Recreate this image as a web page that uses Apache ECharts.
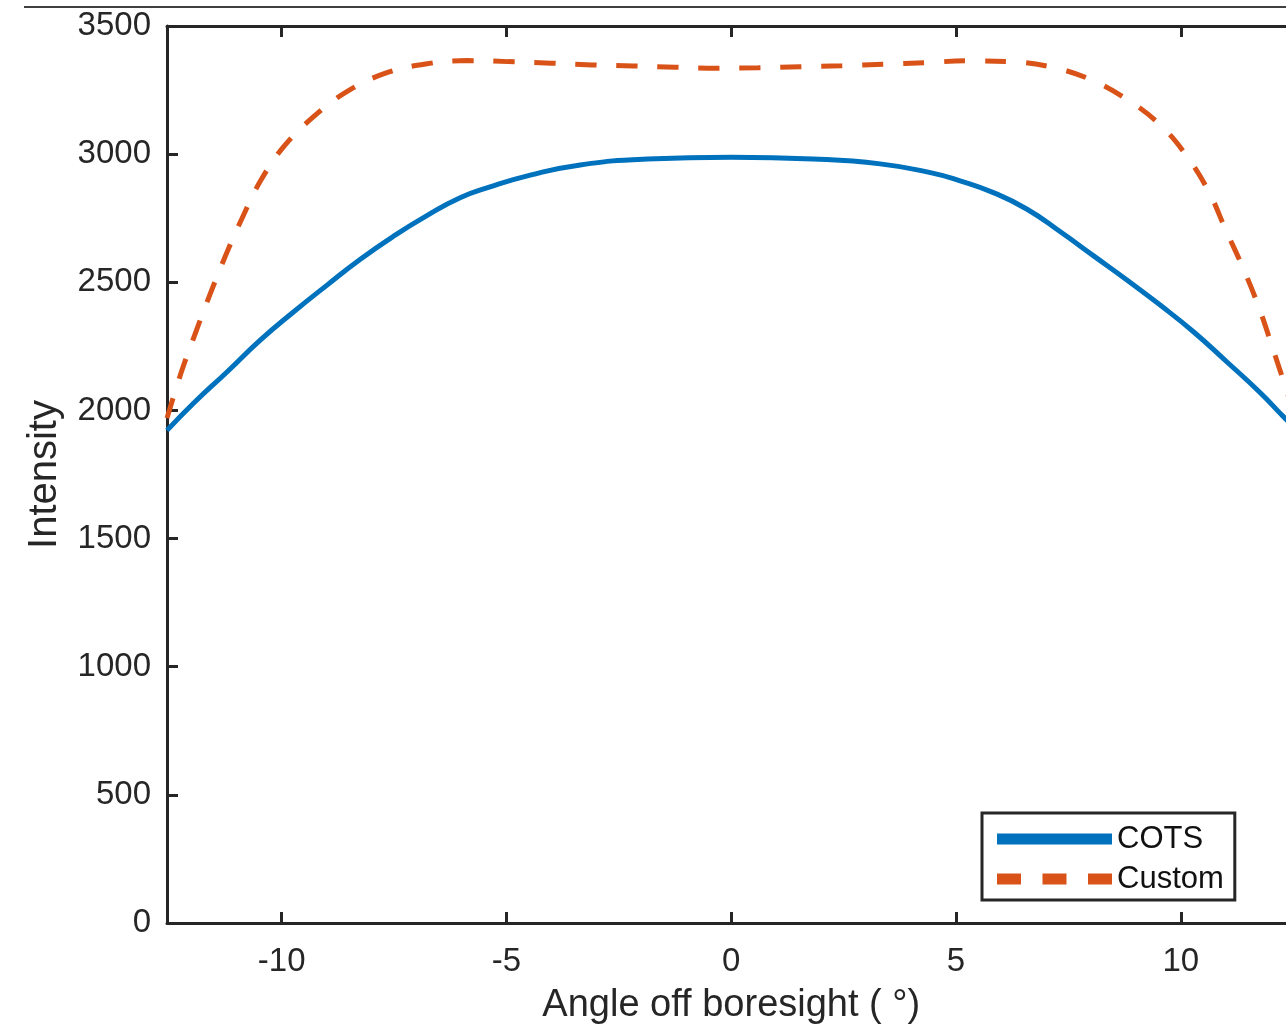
<!DOCTYPE html>
<html>
<head>
<meta charset="utf-8">
<script src="https://cdn.jsdelivr.net/npm/echarts@6/dist/echarts.min.js"></script>
<style>
html,body{margin:0;padding:0;background:#fff;overflow:hidden;width:1286px;height:1026px;}
#chart{width:1296px;height:1026px;}
</style>
</head>
<body>
<div id="chart"></div>
<script>
// ---- data ----
const seriesNames = ['COTS', 'Custom'];
const xTickValues = [-10, -5, 0, 5, 10];
const xRange = [-12.55, 12.55];
const yTicks = [0, 500, 1000, 1500, 2000, 2500, 3000, 3500];

const angleCOTS = [-12.55, -11.96, -11.21, -10.47, -9.73, -8.99, -8.25, -7.51, -6.77, -6.03, -5.40, -4.47, -3.36, -1.87, 0, 1.82, 3.31, 4.43, 5.09, 5.83, 6.58, 7.32, 8.06, 8.80, 9.54, 10.28, 11.02, 11.76, 12.32, 12.55];
const intensityCOTS = [1922, 2028, 2151, 2275, 2385, 2489, 2590, 2680, 2760, 2830, 2870, 2918, 2958, 2981, 2988, 2981, 2962, 2928, 2896, 2850, 2785, 2697, 2603, 2509, 2411, 2307, 2190, 2070, 1969, 1932];

const angleCustom = [-12.55, -12.24, -11.92, -11.60, -11.25, -10.88, -10.46, -9.94, -9.29, -8.55, -7.69, -6.80, -5.88, -4.96, -4.01, -3.10, -2.18, -1.25, -0.32, 0.60, 1.53, 2.46, 3.38, 4.32, 5.24, 6.17, 7.09, 7.98, 8.80, 9.54, 10.13, 10.62, 10.99, 11.38, 11.73, 12.02, 12.30, 12.55];
const intensityCustom = [1970, 2145, 2301, 2450, 2603, 2750, 2899, 3032, 3146, 3244, 3316, 3352, 3365, 3361, 3355, 3348, 3344, 3339, 3335, 3337, 3341, 3345, 3351, 3357, 3364, 3361, 3341, 3292, 3214, 3114, 2993, 2854, 2708, 2557, 2405, 2255, 2106, 1972];

const xTitle = 'Angle off boresight ( °)';
const yTitle = 'Intensity';
// ---------------------------------------

const FONT = 'Liberation Sans, Arial, Helvetica, sans-serif';
const AX = '#262626';
const chart = echarts.init(document.getElementById('chart'), null, {renderer: 'canvas'});

const pairs = (xs, ys) => xs.map((x, i) => [x, ys[i]]);

const lineAx = {show: true, onZero: false, lineStyle: {color: AX, width: 3}};
const tickAx = {show: true, inside: true, length: 11, lineStyle: {color: AX, width: 3}};

chart.setOption({
  animation: false,
  backgroundColor: '#fff',
  textStyle: {fontFamily: FONT},
  grid: {left: 167, top: 26, right: 0.5, bottom: 103, containLabel: false, outerBoundsMode: 'none'},
  legend: {
    show: true,
    left: 982,
    top: 813,
    orient: 'vertical',
    data: [
      {name: seriesNames[0], icon: 'path://M0,0H115V11H0Z'},
      {name: seriesNames[1], icon: 'path://M0,0H24V11H0Z M45.5,0H69.5V11H45.5Z M91,0H115V11H91Z'}
    ],
    itemWidth: 115,
    itemHeight: 11,
    itemGap: 6,
    itemStyle: {borderWidth: 0},
    padding: [9, 11, 4, 15],
    borderColor: AX,
    borderWidth: 3,
    backgroundColor: '#fff',
    textStyle: {fontSize: 31, color: '#111', fontFamily: FONT, padding: [0, 0, 0, 0], lineHeight: 34},
    selectedMode: false
  },
  graphic: [{
    type: 'line',
    shape: {x1: 24, y1: 7, x2: 1286, y2: 7},
    style: {stroke: '#000', lineWidth: 1.5},
    silent: true
  }],
  xAxis: [{
    type: 'value',
    position: 'bottom',
    min: xRange[0], max: xRange[1],
    axisLine: lineAx,
    axisTick: Object.assign({customValues: xTickValues}, tickAx),
    splitLine: {show: false},
    axisLabel: {show: true, customValues: xTickValues, fontSize: 33, color: AX, margin: 22, fontFamily: FONT},
    name: xTitle,
    nameLocation: 'middle',
    nameGap: 64,
    nameTextStyle: {fontSize: 38, color: AX, fontFamily: FONT}
  }, {
    type: 'value',
    position: 'top',
    min: xRange[0], max: xRange[1],
    axisLine: lineAx,
    axisTick: Object.assign({customValues: xTickValues}, tickAx),
    splitLine: {show: false},
    axisLabel: {show: false}
  }],
  yAxis: [{
    type: 'value',
    position: 'left',
    min: yTicks[0], max: yTicks[yTicks.length - 1], interval: 500,
    axisLine: lineAx,
    axisTick: tickAx,
    splitLine: {show: false},
    axisLabel: {show: true, fontSize: 33, color: AX, margin: 16, fontFamily: FONT, padding: [5, 0, 0, 0],
      formatter: v => String(v)},
    name: yTitle,
    nameLocation: 'middle',
    nameGap: 102,
    nameTextStyle: {fontSize: 40, color: AX, fontFamily: FONT}
  }, {
    type: 'value',
    position: 'right',
    min: yTicks[0], max: yTicks[yTicks.length - 1], interval: 500,
    axisLine: lineAx,
    axisTick: {show: false},
    splitLine: {show: false},
    axisLabel: {show: false}
  }],
  series: [{
    name: seriesNames[0],
    type: 'line',
    xAxisIndex: 0, yAxisIndex: 0,
    data: pairs(angleCOTS, intensityCOTS),
    showSymbol: false,
    symbol: 'none',
    smooth: 0.5,
    lineStyle: {color: '#0072BD', width: 5},
    itemStyle: {color: '#0072BD'},
    clip: true,
    z: 3
  }, {
    name: seriesNames[1],
    type: 'line',
    xAxisIndex: 0, yAxisIndex: 0,
    data: pairs(angleCustom, intensityCustom),
    showSymbol: false,
    symbol: 'none',
    smooth: 0.4,
    lineStyle: {color: '#D95319', width: 5, type: [21, 20], cap: 'butt'},
    itemStyle: {color: '#D95319'},
    clip: true,
    z: 2
  }]
});
</script>
</body>
</html>
